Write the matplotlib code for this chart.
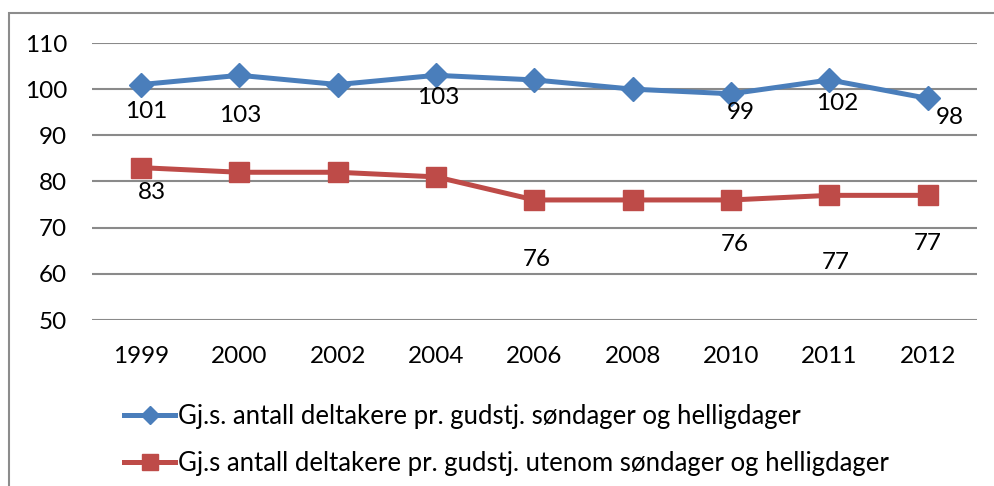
import matplotlib
matplotlib.use("Agg")
import matplotlib.pyplot as plt
from matplotlib.patches import Rectangle

years = ["1999", "2000", "2002", "2004", "2006", "2008", "2010", "2011", "2012"]
sunday = [101, 103, 101, 103, 102, 100, 99, 102, 98]
weekday = [83, 82, 82, 81, 76, 76, 76, 77, 77]
sunday_label = "Gj.s. antall deltakere pr. gudstj. søndager og helligdager"
weekday_label = "Gj.s antall deltakere pr. gudstj. utenom søndager og helligdager"
yticks = [50, 60, 70, 80, 90, 100, 110]

# labels shown (index -> offset in pixels)
sunday_shown = {0: (5, -27), 1: (1, -40), 3: (2, -22), 6: (10, -19), 7: (8, -24), 8: (22, -19)}
weekday_shown = {0: (11, -25), 4: (2, -60), 6: (4, -45), 7: (6, -67), 8: (0, -48)}

plt.rcParams['font.family'] = ['Lato', 'DejaVu Sans']
FS = 17.5

fig = plt.figure(figsize=(9.95, 4.86), dpi=100)
fig.patches.append(Rectangle((9/995, -0.1), 1.1, 1 - 13/486 + 0.1, transform=fig.transFigure,
                             fill=False, edgecolor='#8c8c8c', linewidth=1.5))
ax = fig.add_axes([92/995, 1 - 320/486, (977 - 92)/995, (320 - 43)/486])

blue = '#4A7EBB'
red = '#BE4B48'
x = list(range(len(years)))
ax.plot(x, sunday, color=blue, lw=3.6, marker='D', ms=12, label=sunday_label, zorder=3)
ax.plot(x, weekday, color=red, lw=3.6, marker='s', ms=14, label=weekday_label, zorder=3)

for i, (dx, dy) in sunday_shown.items():
    ax.annotate(str(sunday[i]), (x[i], sunday[i]), xytext=(dx * 0.72, dy * 0.72),
                textcoords='offset points', ha='center', va='center', fontsize=FS)
for i, (dx, dy) in weekday_shown.items():
    ax.annotate(str(weekday[i]), (x[i], weekday[i]), xytext=(dx * 0.72, dy * 0.72),
                textcoords='offset points', ha='center', va='center', fontsize=FS)

ax.set_xlim(-0.5, len(years) - 0.5)
ax.set_ylim(50, 110)
ax.set_yticks(yticks)
ax.set_xticks(x)
ax.set_xticklabels(years)
ax.grid(axis='y', color='#8a8a8a', lw=1.5)
ax.set_axisbelow(True)
for s in ax.spines.values():
    s.set_visible(False)
ax.tick_params(length=0, labelsize=FS)
ax.tick_params(axis='y', pad=18)
ax.tick_params(axis='x', pad=19)

leg = fig.legend(loc='upper left', bbox_to_anchor=(111/995, 1 - 391/486), frameon=False,
                 fontsize=18.5, handlelength=2.0, handletextpad=0.1, labelspacing=0.85,
                 borderpad=0, markerscale=0.8)

fig.savefig('out.png', dpi=100)
